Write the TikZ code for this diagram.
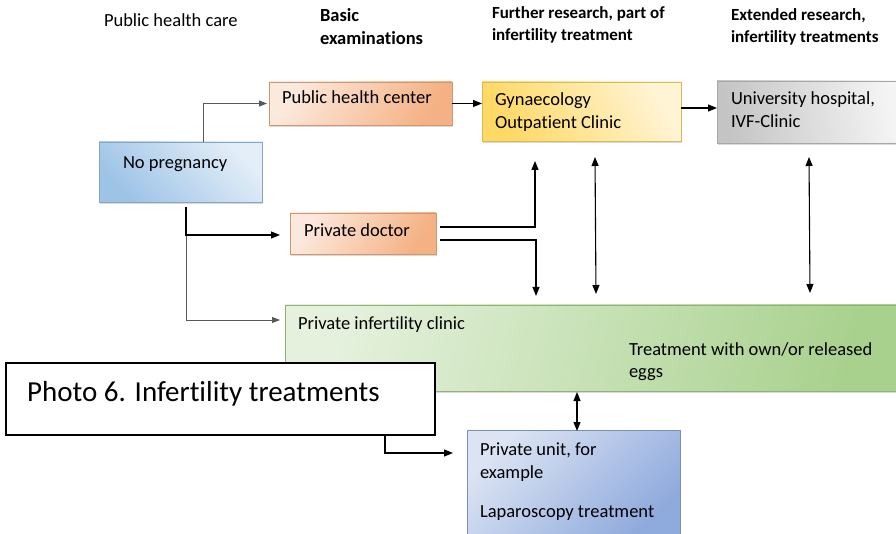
\documentclass[tikz,border=0pt]{standalone}
\usepackage{fontspec}
\setmainfont{Carlito}[Ligatures=NoCommon]
\usetikzlibrary{arrows.meta,shadows}
\definecolor{orD}{HTML}{F4B183}\definecolor{orL}{HTML}{FCE9DD}
\definecolor{yeD}{HTML}{FFD966}\definecolor{yeL}{HTML}{FFF4D4}
\definecolor{grD}{HTML}{C4C4C4}\definecolor{grL}{HTML}{F4F4F4}
\definecolor{blD}{HTML}{9DC3E6}\definecolor{blL}{HTML}{E3EEF8}
\definecolor{gnD}{HTML}{A9D18E}\definecolor{gnL}{HTML}{E5F1DD}
\definecolor{puD}{HTML}{8FAADC}\definecolor{puL}{HTML}{DCE4F3}
\definecolor{linegray}{HTML}{595959}
\tikzset{
  box/.style={rectangle,inner sep=0,outer sep=0,draw=#1D!85!black,line width=0.6pt,
    drop shadow={shadow xshift=1pt,shadow yshift=-2pt,opacity=0.25,fill=black!60}},
  txt/.style={anchor=base west,inner sep=0,outer sep=0,font=\fontsize{18.5}{23}\selectfont},
  hdr/.style={anchor=base west,inner sep=0,outer sep=0,font=\fontsize{17}{22}\selectfont\bfseries},
  arr/.style={line width=1.1pt,black,-{Triangle[length=9pt,width=7pt]}},
  darr/.style={line width=1.1pt,black,{Triangle[length=9pt,width=7pt]}-{Triangle[length=9pt,width=7pt]}},
  garr/.style={line width=1pt,linegray,-{Triangle[length=8pt,width=6pt]}},
}
\begin{document}
\begin{tikzpicture}[x=1pt,y=-1pt]
\useasboundingbox (0,0) rectangle (896,534);
% headers
\node[txt,font=\fontsize{18.5}{22}\selectfont] (h1) at (104,27) {Public health care};
\node[hdr,font=\fontsize{18.5}{22}\selectfont\bfseries] (h2a) at (320,22) {Basic};
\node[hdr,font=\fontsize{18.5}{22}\selectfont\bfseries] (h2b) at (320,45) {examinations};
\node[hdr] (h3a) at (492,19) {Further research, part of};
\node[hdr] (h3b) at (492,41) {infertility treatment};
\node[hdr] (h4a) at (731,21) {Extended research,};
\node[hdr] (h4b) at (731,43) {infertility treatments};
% boxes
\node[box=or,minimum width=183,minimum height=43,left color=orL,right color=orD,shading angle=60] (phc) at (360.5,103.5) {};
\node[box=ye,minimum width=199,minimum height=59,left color=yeD,right color=yeL,shading angle=120] (gyn) at (581.5,111.5) {};
\node[box=gr,minimum width=182,minimum height=62,left color=grD,right color=grL,shading angle=100] (uni) at (808,112) {};
\node[box=bl,minimum width=163,minimum height=60,left color=blD,right color=blL,shading angle=135] (np) at (180.5,172) {};
\node[box=or,minimum width=146,minimum height=41,left color=orL,right color=orD,shading angle=60] (pd) at (363,233.5) {};
\node[box=gn,minimum width=614,minimum height=86,left color=gnL,right color=gnD,shading angle=75] (pic) at (592,348) {};
\node[box=pu,minimum width=213,minimum height=106,left color=puL,right color=puD,shading angle=45] (pu) at (573.5,483) {};
% box texts
\node[txt] (t1) at (282,104) {Public health center};
\node[txt] (t2a) at (495,106) {Gynaecology};
\node[txt] (t2b) at (495,129) {Outpatient Clinic};
\node[txt] (t3a) at (731,105) {University hospital,};
\node[txt] (t3b) at (731,128) {IVF-Clinic};
\node[txt] (t4) at (123,169) {No pregnancy};
\node[txt] (t5) at (304,237) {Private doctor};
\node[txt] (t6) at (298,329) {Private infertility clinic};
\node[txt] (t7a) at (629,355) {Treatment with own/or released};
\node[txt] (t7b) at (629,377) {eggs};
\node[txt] (t8a) at (480,455) {Private unit, for};
\node[txt] (t8b) at (480,478) {example};
\node[txt] (t9) at (480,517) {Laparoscopy treatment};
% caption box
\node[draw=black,line width=1.2pt,fill=white,inner sep=0,minimum width=429,minimum height=72] (cap) at (220.5,399) {};
\node[anchor=base west,inner sep=0,font=\fontsize{29}{32}\selectfont] (capt) at (27,401) {Photo 6. Infertility treatments};
% coordinates
\coordinate (npTop) at (203,142);
\coordinate (npBot) at (186,207);
\coordinate (split) at (186,236);
\coordinate (picIn) at (280,320);
\coordinate (pdIn) at (280,235);
\coordinate (pdA) at (440,227);
\coordinate (pdB) at (440,240);
\coordinate (gynTip) at (535,161);
\coordinate (picTip) at (536,296);
\coordinate (d1a) at (595,157);\coordinate (d1b) at (596,294);
\coordinate (d2a) at (809,157);\coordinate (d2b) at (810,293);
\coordinate (d3a) at (577,392);\coordinate (d3b) at (577,431);
\coordinate (capOut) at (385,435);
\coordinate (puIn) at (453,453);
% connectors
\draw[garr] (npTop) |- ([xshift=-2pt]phc.west);
\draw[arr] (phc.east) -- (phc.east -| gyn.west);
\draw[arr] ([yshift=3.5pt]gyn.east) -- ([yshift=3.5pt]gyn.east -| uni.west);
\draw[arr] (npBot) |- (pdIn);
\draw[garr] (split) |- (picIn);
\draw[arr] (pdA) -| (gynTip);
\draw[arr] (pdB) -| (picTip);
\draw[darr] (d1a) -- (d1b);
\draw[darr] (d2a) -- (d2b);
\draw[darr] (d3a) -- (d3b);
\draw[arr] (capOut) |- (puIn);
\end{tikzpicture}
\end{document}
